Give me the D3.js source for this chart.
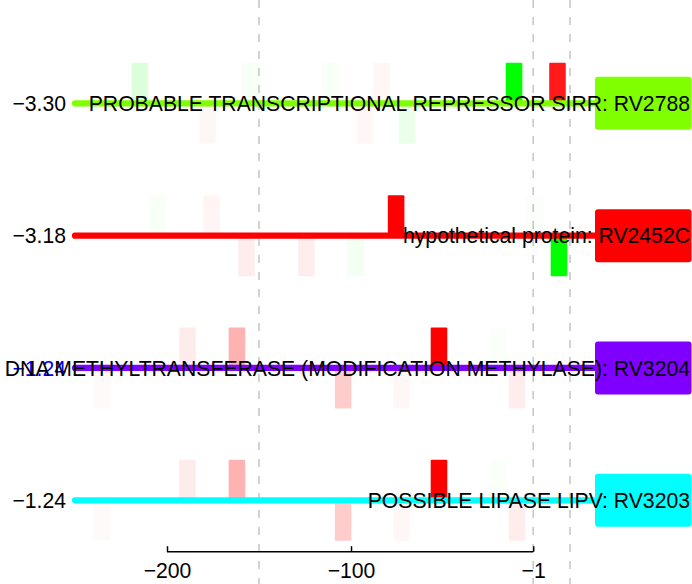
<!DOCTYPE html>
<html>
<head>
<meta charset="utf-8">
<script src="https://cdn.jsdelivr.net/npm/d3@7"></script>
<style>
  html, body { margin: 0; padding: 0; background: #fff; }
  svg { display: block; font-family: "Liberation Sans", Arial, sans-serif; }
</style>
</head>
<body>
<svg id="chart" width="692" height="584"></svg>
<script>
// ---------- data ----------
const genes = ["RV2788", "RV2452C", "RV3204", "RV3203"];
const scoreLabels = ["\u22123.30", "\u22123.18", "\u22121.24", "\u22121.24"];
const descriptions = [
  "PROBABLE TRANSCRIPTIONAL REPRESSOR SIRR: RV2788",
  "hypothetical protein: RV2452C",
  "DNA METHYLTRANSFERASE (MODIFICATION METHYLASE): RV3204",
  "POSSIBLE LIPASE LIPV: RV3203"
];
const tickValues = [-200, -100, -1];
const markerPositions = [-150, -1, 19];
const upstreamStart = -250;

// per-gene motif hits: centre position, direction (+1 above / -1 below), hue (R/G), strength 0..1
const pos1 = [-214.7, -178, -155.2, -111.4, -92.7, -83.4, -69.6, -11.4, 12.2];
const dir1 = [1, -1, 1, 1, -1, 1, -1, 1, 1];
const hue1 = ["G", "R", "G", "G", "R", "R", "G", "G", "R"];
const str1 = [0.14, 0.03, 0.03, 0.03, 0.03, 0.03, 0.08, 1, 0.9];

const pos2 = [-205.2, -175.8, -156.8, -124.2, -97.6, -75.5, -0.8, 13];
const dir2 = [1, 1, -1, -1, -1, 1, 1, -1];
const hue2 = ["G", "R", "R", "R", "G", "R", "G", "G"];
const str2 = [0.03, 0.04, 0.07, 0.07, 0.05, 1, 0.02, 1];

const pos3 = [-235.3, -188.9, -162, -104.3, -72.6, -52.2, -19.6, -9.8];
const dir3 = [-1, 1, 1, -1, -1, 1, 1, -1];
const hue3 = ["R", "R", "R", "R", "R", "R", "G", "R"];
const str3 = [0.02, 0.08, 0.3, 0.2, 0.03, 1, 0.02, 0.07];

const pos4 = [-235.3, -188.9, -162, -104.3, -72.6, -52.2, -19.6, -9.8];
const dir4 = [-1, 1, 1, -1, -1, 1, 1, -1];
const hue4 = ["R", "R", "R", "R", "R", "R", "G", "R"];
const str4 = [0.02, 0.08, 0.3, 0.2, 0.03, 1, 0.02, 0.07];

// ---------- styles ----------
const geneColors = ["#80FF00", "#FF0000", "#8000FF", "#00FFFF"];
const scoreColors = ["#000", "#000", "#0000FF", "#000"];
const hueRGB = { R: [255, 0, 0], G: [0, 255, 0] };
const fontSize = 21.2;

const hits = [
  [pos1, dir1, hue1, str1],
  [pos2, dir2, hue2, str2],
  [pos3, dir3, hue3, str3],
  [pos4, dir4, hue4, str4]
].map(([p, d, h, s]) => p.map((v, i) => ({ pos: v, dir: d[i], hue: h[i], str: s[i] })));

// ---------- scales ----------
const svg = d3.select("#chart");
const x = d3.scaleLinear().domain([-200, -1]).range([167, 533.2]);
const y = d3.scalePoint().domain(genes).range([103.3, 500.3]);
const barH = d3.scaleLinear().domain([0, 1]).range([0, 40.5]);
const barW = 9; // in position units
const boxX0 = 595, boxX1 = 691.5, boxH = 53;

// dashed markers
svg.append("g").selectAll("line").data(markerPositions).join("line")
  .attr("x1", d => x(d)).attr("x2", d => x(d))
  .attr("y1", 0).attr("y2", 584)
  .attr("stroke", "#c8c8c8").attr("stroke-width", 1.6)
  .attr("stroke-dasharray", "8,9");

const rowsG = svg.append("g").selectAll("g").data(genes).join("g");

// bars
rowsG.each(function (g, i) {
  const sel = d3.select(this);
  sel.selectAll("rect.hit").data(hits[i]).join("rect")
    .attr("class", "hit")
    .attr("x", d => x(d.pos - barW / 2))
    .attr("width", d => x(d.pos + barW / 2) - x(d.pos - barW / 2))
    .attr("y", d => d.dir > 0 ? y(g) - barH(1) : y(g))
    .attr("height", barH(1))
    .attr("rx", 1)
    .attr("fill", d => { const c = hueRGB[d.hue]; return `rgba(${c[0]},${c[1]},${c[2]},${d.str})`; });
});

// gene lines
rowsG.append("line")
  .attr("x1", x(upstreamStart)).attr("x2", boxX0 + 2)
  .attr("y1", g => y(g)).attr("y2", g => y(g))
  .attr("stroke", (g, i) => geneColors[i])
  .attr("stroke-width", 6.2)
  .attr("stroke-linecap", "round");

// gene boxes
rowsG.append("rect")
  .attr("x", boxX0).attr("width", boxX1 - boxX0)
  .attr("y", g => y(g) - boxH / 2).attr("height", boxH)
  .attr("rx", 3)
  .attr("fill", (g, i) => geneColors[i]);

// score labels
rowsG.append("text")
  .attr("x", 66).attr("y", g => y(g)).attr("dy", "0.36em")
  .attr("text-anchor", "end")
  .attr("font-size", fontSize)
  .attr("fill", (g, i) => scoreColors[i])
  .text((g, i) => scoreLabels[i]);

// descriptions
rowsG.append("text")
  .attr("x", 690).attr("y", g => y(g)).attr("dy", "0.36em")
  .attr("text-anchor", "end")
  .attr("font-size", fontSize)
  .attr("fill", "#000")
  .text((g, i) => descriptions[i]);

// axis
const axisScale = d3.scaleLinear().domain([-200, -1]).range([x(-200), x(-1)]);
const axis = svg.append("g")
  .attr("transform", "translate(0,551.7)")
  .call(d3.axisBottom(axisScale).tickValues(tickValues)
    .tickSizeInner(-5.5).tickSizeOuter(0).tickPadding(11)
    .tickFormat(d => d3.format("d")(d).replace("-", "\u2212")));
axis.select(".domain").attr("stroke", "#000").attr("stroke-width", 1.5)
  .attr("d", `M${x(-200)},0H${x(-1)}`);
axis.selectAll(".tick line").attr("stroke", "#000").attr("stroke-width", 1.5);
axis.selectAll(".tick text").attr("font-size", fontSize).attr("fill", "#000")
  .attr("font-family", "\"Liberation Sans\", Arial, sans-serif");
</script>
</body>
</html>
